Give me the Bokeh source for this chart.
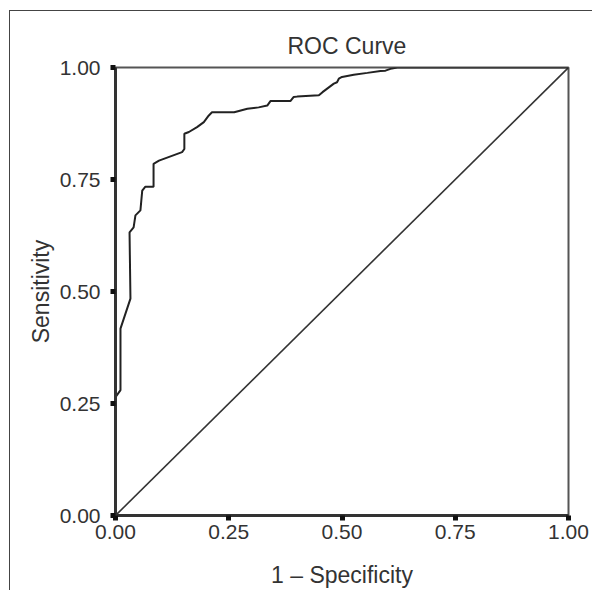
from bokeh.plotting import figure
from bokeh.embed import file_html
from bokeh.resources import INLINE
from bokeh.models import Range1d, FixedTicker

# ROC curve (1 - specificity, sensitivity)
fpr = [0.0, 0.0, 0.011, 0.011, 0.033, 0.031, 0.040, 0.044, 0.055, 0.059, 0.066,
       0.084, 0.084, 0.096, 0.147, 0.152, 0.152, 0.162, 0.180, 0.195, 0.206,
       0.213, 0.232, 0.262, 0.291, 0.316, 0.335, 0.342, 0.386, 0.393, 0.401,
       0.449, 0.457, 0.482, 0.489, 0.493, 0.500, 0.526, 0.556, 0.585, 0.596,
       0.607, 0.622, 1.0]
tpr = [0.0, 0.264, 0.280, 0.417, 0.484, 0.632, 0.643, 0.670, 0.681, 0.725, 0.734,
       0.734, 0.785, 0.792, 0.811, 0.818, 0.852, 0.856, 0.867, 0.878, 0.893,
       0.900, 0.900, 0.900, 0.908, 0.911, 0.915, 0.925, 0.925, 0.934, 0.935,
       0.938, 0.945, 0.964, 0.967, 0.975, 0.979, 0.984, 0.988, 0.992, 0.993,
       0.997, 1.0, 1.0]
diag_x = [0.0, 1.0]
diag_y = [0.0, 1.0]
ticks = [0.0, 0.25, 0.5, 0.75, 1.0]
tick_labels = {0.0: "0.00", 0.25: "0.25", 0.5: "0.50", 0.75: "0.75", 1.0: "1.00"}

FONT = "Liberation Sans"
TXT = "#333333"

p = figure(frame_width=453, frame_height=448,
           x_range=Range1d(0, 1), y_range=Range1d(0, 1),
           output_backend="svg", toolbar_location=None,
           min_border_left=115, min_border_right=24,
           min_border_top=67, min_border_bottom=75,
           title="ROC Curve")
p.border_fill_color = None
p.background_fill_color = "white"
p.styles = {
    "background-image": "linear-gradient(#444444, #444444), linear-gradient(#444444, #444444)",
    "background-size": "1px 100%, 100% 1px",
    "background-position": "9px 10px, 9px 10px",
    "background-repeat": "no-repeat",
}
p.grid.visible = False
p.outline_line_color = "#555555"
p.outline_line_width = 2

p.title.align = "left"
p.title.offset = 172
p.title.text_font = FONT
p.title.text_font_size = "23px"
p.title.text_font_style = "normal"
p.title.text_color = TXT
p.title.standoff = 17

for ax, lab in ((p.xaxis[0], "1 \u2013 Specificity"), (p.yaxis[0], "Sensitivity")):
    ax.ticker = FixedTicker(ticks=ticks)
    ax.major_label_overrides = tick_labels
    ax.minor_tick_line_color = None
    ax.major_tick_in = 0
    ax.major_tick_out = 5
    ax.major_tick_line_width = 5
    ax.major_tick_line_color = "#111111"
    ax.axis_line_width = 3
    ax.axis_line_color = "#333333"
    ax.major_label_text_font = FONT
    ax.major_label_text_font_size = "21px"
    ax.major_label_text_color = TXT
    ax.axis_label = lab
    ax.axis_label_text_font = FONT
    ax.axis_label_text_font_size = "23px"
    ax.axis_label_text_font_style = "normal"
    ax.axis_label_text_color = TXT

p.xaxis.major_label_standoff = 4
p.xaxis.axis_label_standoff = 20
p.yaxis.major_label_standoff = 10
p.yaxis.axis_label_standoff = 3

p.line(diag_x, diag_y, line_color="#333333", line_width=1.6)
p.line(fpr, tpr, line_color="#222222", line_width=2)

open("out.html", "w").write(file_html(p, INLINE))
